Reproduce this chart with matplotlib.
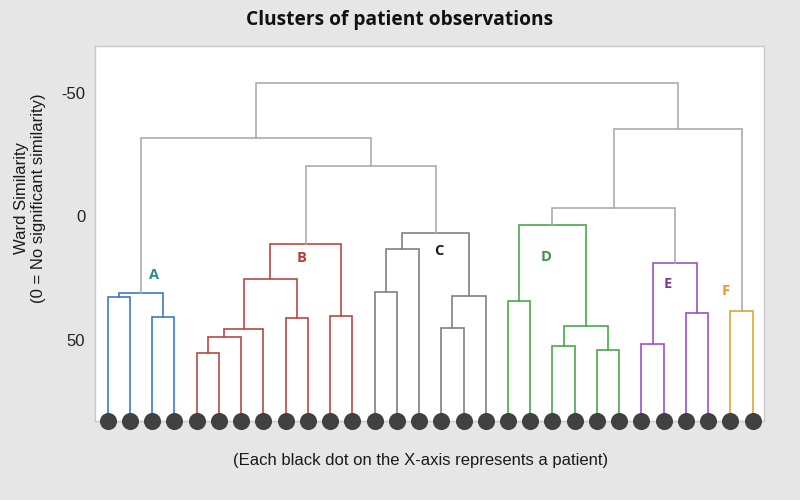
import matplotlib
matplotlib.use("Agg")
import matplotlib.pyplot as plt
import numpy as np

# ---------------- data ----------------
n_leaves = 30
leaf_cluster = (["A"] * 4 + ["B"] * 8 + ["C"] * 6 + ["D"] * 6 +
                ["E"] * 4 + ["F"] * 2)
# merges: node id = n_leaves + index
merge_left = [0, 2, 30, 4, 33, 34, 8, 10, 35, 38,
              12, 40, 15, 42, 41,
              18, 20, 22, 46, 45,
              24, 26, 50,
              28,
              39, 32, 49, 56, 55]
merge_right = [1, 3, 31, 5, 6, 7, 9, 11, 36, 37,
               13, 14, 16, 17, 43,
               19, 21, 23, 47, 48,
               25, 27, 51,
               29,
               44, 54, 52, 53, 57]
merge_height = [32.5, 40.7, 31.0, 55.3, 48.9, 45.5, 41.1, 40.4, 25.4, 11.1,
                30.7, 13.3, 45.3, 32.1, 6.8,
                34.1, 52.4, 54.0, 44.3, 3.3,
                51.5, 38.9, 19.0,
                38.1,
                -20.4, -31.7, -3.6, -35.3, -53.9]
cluster_names = ["A", "B", "C", "D", "E", "F"]
cluster_label_pos = [(2.1, 23.5), (8.7, 16.8), (14.9, 14), (19.7, 16.3),
                     (25.2, 27.5), (27.8, 30)]
y_ticks = [-50, 0, 50]

# ---------------- style ----------------
line_colors = {"A": "#3b7cc4", "B": "#b84a42", "C": "#808080",
               "D": "#4aa84a", "E": "#9b50c8", "F": "#dba834"}
text_colors = {"A": "#2b8c8c", "B": "#b23c36", "C": "#1a1a1a",
               "D": "#3f8f4f", "E": "#7a3c9a", "F": "#e69a1e"}
upper_color = "#ababab"
bg = "#e6e6e6"

fig = plt.figure(figsize=(8, 5), dpi=100, facecolor=bg)
ax = fig.add_axes([95 / 800, 1 - 421 / 500, 669 / 800, 375 / 500])
ax.set_facecolor("white")

baseline = 82.8
ax.set_xlim(-0.57, 29.51)
ax.set_ylim(baseline, -69.0)

# positions / heights / clusters of nodes
xpos = {i: float(i) for i in range(n_leaves)}
hgt = {i: baseline for i in range(n_leaves)}
clus = {i: leaf_cluster[i] for i in range(n_leaves)}

for k, (a, b, h) in enumerate(zip(merge_left, merge_right, merge_height)):
    node = n_leaves + k
    c = clus[a] if clus[a] == clus[b] else None
    color = line_colors[c] if c else upper_color
    xa, xb = xpos[a], xpos[b]
    ax.plot([xa, xa, xb, xb], [hgt[a], h, h, hgt[b]], color=color,
            lw=1.2, solid_joinstyle="miter", zorder=2)
    xpos[node] = (xa + xb) / 2
    hgt[node] = h
    clus[node] = c

for name, (lx, ly) in zip(cluster_names, cluster_label_pos):
    ax.text(lx, ly, name, color=text_colors[name], fontsize=10.5,
            fontweight="bold", family="Open Sans", ha="center",
            va="center", zorder=4)

ax.plot(np.arange(n_leaves), [baseline] * n_leaves, "o", color="#414141",
        markersize=12.3, markeredgewidth=0, clip_on=False, zorder=5)

ax.set_xticks([])
ax.set_yticks(y_ticks)
ax.set_yticklabels([str(t) for t in y_ticks], fontsize=12,
                   family="Liberation Sans", color="#222222")
ax.tick_params(axis="y", length=0, pad=7)
for s in ax.spines.values():
    s.set_color("#c8c8c8")
    s.set_linewidth(1.0)

fig.text(400 / 800, 1 - 20 / 500, "Clusters of patient observations",
         ha="center", va="center", fontsize=13.8, fontweight="bold",
         family="Open Sans", color="#111111")
fig.text(421 / 800, 1 - 460 / 500,
         "(Each black dot on the X-axis represents a patient)",
         ha="center", va="center", fontsize=12, family="Liberation Sans",
         color="#1a1a1a")
fig.text(30 / 800, 1 - 198 / 500,
         "Ward Similarity\n(0 = No significant similarity)",
         ha="center", va="center", rotation=90, fontsize=12,
         family="Liberation Sans", color="#1a1a1a", linespacing=1.15)

fig.savefig("out.png", dpi=100, facecolor=bg)
